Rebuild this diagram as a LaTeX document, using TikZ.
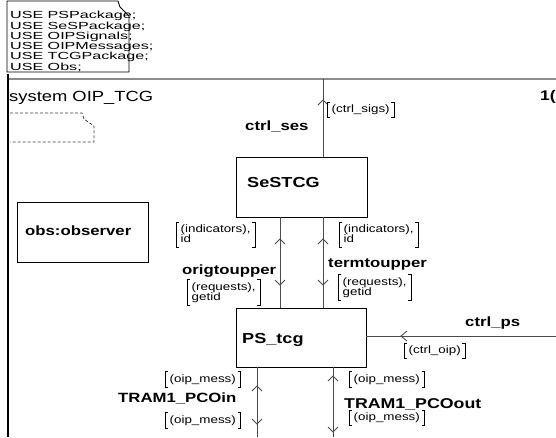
\documentclass[tikz,border=0pt]{standalone}
\usepackage{graphicx}
\usepackage{fontspec}
\setmainfont{Liberation Sans}[FakeStretch=1.25]
\newcommand\usl[1]{\scalebox{1.25}[1]{#1}}
\tikzset{
  bx/.style={draw=black, line width=0.9pt, inner sep=0pt},
  chan/.style={draw=black!70, line width=0.9pt},
  brkline/.style={draw=black, line width=0.8pt},
  usetxt/.style={font=\fontsize{10.3}{9.5}\selectfont, align=left, inner sep=0pt, anchor=north west},
  brk/.style={font=\fontsize{10.7}{10}\selectfont, align=left, inner xsep=4.5pt, inner ysep=2.6pt, anchor=west,
    append after command={\pgfextra{
      \draw[brkline] ([xshift=3pt]\tikzlastnode.north west) -| (\tikzlastnode.south west) -- ++(3pt,0);
      \draw[brkline] ([xshift=-3pt]\tikzlastnode.north east) -| (\tikzlastnode.south east) -- ++(-3pt,0);}}},
  chl/.style={font=\bfseries\fontsize{13.4}{14}\selectfont, inner sep=0pt, anchor=base west},
  bxl/.style={font=\bfseries\fontsize{14.5}{15}\selectfont, inner sep=0pt, anchor=base west},
  chevU/.pic={\draw[chan] (-5,5) -- (0,0) -- (5,5);},
  chevD/.pic={\draw[chan] (-5,-5) -- (0,0) -- (5,-5);},
  chevL/.pic={\draw[chan] (6,-5) -- (0,0) -- (6,5);}
}
\begin{document}
\begin{tikzpicture}[x=1pt, y=-1pt]
\useasboundingbox[fill=white] (0,0) rectangle (556,437);

% frame
\draw[draw=black!45, line width=1.5pt] (8,79) -- (556,79);
\draw[line width=2.5pt] (8,74) -- (8,437);
\node[font=\fontsize{14.7}{15}\selectfont, inner sep=0pt, anchor=base west] (sys) at (9,101) {system OIP\_TCG};
\node[font=\bfseries\fontsize{14}{15}\selectfont, inner sep=0pt, anchor=base west] (pg) at (540,100) {1(};

% USE note
\draw[line width=0.8pt] (7,1) -- (118,1) -- (120,7) -- (129,16) -- (129,72) -- (7,72) -- cycle;
\node[usetxt] (use) at (10,11) {\usl{USE PSPackage;}\\\usl{USE SeSPackage;}\\\usl{USE OIPSignals;}\\\usl{USE OIPMessages;}\\\usl{USE TCGPackage;}\\\usl{USE Obs;}};

% dashed note
\draw[draw=black!75, line width=0.8pt, dash pattern=on 3pt off 2pt] (10,113) -- (82,113) -- (84,119) -- (94,126) -- (94,142) -- (10,142);

% boxes
\node[bx, minimum width=131pt, minimum height=60pt] (ses) at (301.5,187) {};
\node[bxl] (sesl) at (247,187) {SeSTCG};
\node[bx, minimum width=130pt, minimum height=59pt] (ps) at (301,337.5) {};
\node[bxl] (psl) at (242,343) {PS\_tcg};
\node[bx, minimum width=131pt, minimum height=60pt] (obs) at (82.5,232) {};
\node[font=\bfseries\fontsize{13.4}{14}\selectfont, inner sep=0pt, anchor=base west] (obsl) at (25,235.5) {obs:observer};

% coordinates
\coordinate (xa) at (280,0);
\coordinate (xb) at (323,0);
\coordinate (top) at (323,79);
\coordinate (psr) at (556,336);
\coordinate (bl) at (257,437);
\coordinate (br) at (333,437);

% channels
\draw[chan] (ses.north -| top) -- (top);
\draw[chan] (ses.south -| xa) -- (ps.north -| xa);
\draw[chan] (ses.south -| xb) -- (ps.north -| xb);
\draw[chan] (psr -| ps.east) -- (psr);
\draw[chan] (ps.south -| bl) -- (bl);
\draw[chan] (ps.south -| br) -- (br);

% chevrons
\pic at (323,100) {chevU};
\pic at (280,239) {chevU};
\pic at (280,285) {chevD};
\pic at (323,239) {chevU};
\pic at (323,285) {chevD};
\pic at (401,336) {chevL};
\pic at (257,386) {chevU};
\pic at (257,424) {chevD};
\pic at (333,376) {chevU};
\pic at (333,432) {chevD};

% channel names
\node[chl] (nses) at (245,130) {ctrl\_ses};
\node[chl] (norig) at (182,274) {origtoupper};
\node[chl] (nterm) at (328,267) {termtoupper};
\node[chl] (nps) at (465,326) {ctrl\_ps};
\node[chl] (nin) at (118,402) {TRAM1\_PCOin};
\node[chl, font=\bfseries\fontsize{14.2}{15}\selectfont] (nout) at (344,408) {TRAM1\_PCOout};

% signal lists
\node[brk] (s1) at (327,110) {(ctrl\_sigs)};
\node[brk] (s2) at (176,235) {(indicators),\\id\vphantom{()}};
\node[brk] (s3) at (339,235) {(indicators),\\id\vphantom{()}};
\node[brk] (s4) at (187,292.5) {(requests),\\getid\vphantom{()}};
\node[brk] (s5) at (338,287.5) {(requests),\\getid\vphantom{()}};
\node[brk] (s6) at (404,351) {(ctrl\_oip)};
\node[brk] (s7) at (165,379.5) {(oip\_mess)};
\node[brk] (s8) at (165,420.5) {(oip\_mess)};
\node[brk] (s9) at (349,379.5) {(oip\_mess)};
\node[brk] (s10) at (349,418) {(oip\_mess)};
\end{tikzpicture}
\end{document}
